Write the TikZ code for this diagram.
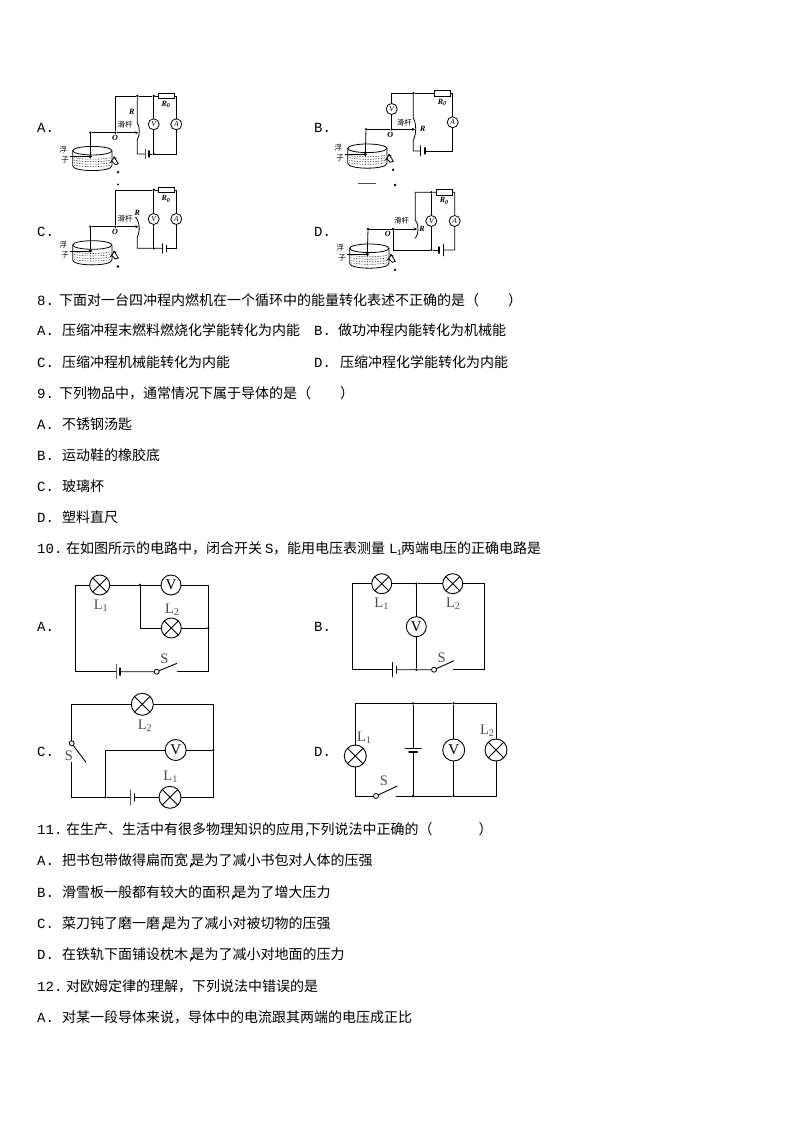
\documentclass[tikz,border=0pt]{standalone}
\usepackage{fontspec}
\setmainfont{Noto Sans CJK SC}
\newfontfamily\latinf{Liberation Mono}
\newfontfamily\serf{Liberation Serif}
\newcommand{\lat}[1]{{\latinf #1}}
\newcommand{\lab}[2]{\makebox[#1pt][l]{\latinf #2}}
\newcommand{\cl}[1]{{\serf L\textsubscript{#1}}}
\newcommand{\cm}{\makebox[2.5pt][l]{\latinf ,}}
\tikzset{
  qtext/.style={anchor=west,inner sep=0pt,font=\fontsize{14}{16}\selectfont},
  lamp/.style={circle,draw,fill=white,minimum size=#1,inner sep=0pt,outer sep=0pt,line width=.9pt,
    path picture={\draw[line width=.9pt] (path picture bounding box.north west) -- (path picture bounding box.south east)
      (path picture bounding box.north east) -- (path picture bounding box.south west);}},
  meter/.style={circle,draw,fill=white,minimum size=#1,inner sep=0pt,outer sep=0pt,line width=.9pt,font=\serf\fontsize{15}{15}\selectfont},
  smeter/.style={circle,draw,fill=white,minimum size=11pt,inner sep=0pt,outer sep=0pt,line width=.8pt,font=\serf\itshape\fontsize{7.5}{8}\selectfont},
  cirlab/.style={inner sep=0pt,font=\serf\fontsize{14.5}{15}\selectfont,text=black!70},
  glab/.style={inner sep=0pt,font=\fontsize{7.5}{8}\selectfont},
  ilab/.style={inner sep=0pt,font=\serf\itshape\bfseries\fontsize{8}{8}\selectfont},
  jdot/.style={circle,fill,minimum size=2.6pt,inner sep=0pt,outer sep=0pt},
  swpin/.style={circle,draw,fill=white,minimum size=5pt,inner sep=0pt,outer sep=0pt,line width=.8pt},
  longplate/.style={draw,minimum width=0pt,minimum height=#1,inner sep=0pt,outer sep=0pt,line width=.8pt},
  shortplate/.style={draw,minimum width=0pt,minimum height=#1,inner sep=0pt,outer sep=0pt,line width=1.3pt},
  rbox/.style={draw,fill=white,minimum width=16pt,minimum height=5.3pt,inner sep=0pt,outer sep=0pt,line width=.8pt},
  wire/.style={line width=.9pt},
  gwire/.style={line width=.8pt},
  lever/.style={gwire,-{Stealth[length=3pt,width=3pt]}},
}
\usetikzlibrary{arrows.meta}
\newcommand{\tankpic}[3]{%
\begin{scope}[shift={(#1,#2)},name prefix=#3-]
\draw[gwire,fill=white] (-19.6,0) -- (-19.6,15) .. controls (-19.6,21.5) and (19.6,21.5) .. (19.6,15) -- (19.6,0);
\draw[gwire,fill=white] (0,0) ellipse (19.6pt and 4.3pt);
\draw[densely dotted,line width=.6pt] (-18,7) .. controls (-8,9) and (8,9) .. (18,7);
\draw[densely dotted,line width=.6pt] (-18,9.5) .. controls (-8,11.5) and (8,11.5) .. (18,9.5);
\draw[densely dotted,line width=.6pt] (-18,12) .. controls (-8,14) and (8,14) .. (18,12);
\draw[densely dotted,line width=.6pt] (-18,14.5) .. controls (-8,16.5) and (8,16.5) .. (18,14.5);
\node[glab] (fu) at(-29,-.7) {浮};
\node[glab] (zi) at(-27.3,9.6) {子};
\node[jdot,minimum size=3.4pt] (float) at(-2,6) {};
\coordinate (fl) at(-22.5,6);
\draw[gwire] (fl) -- (float);
\draw[gwire] (18,12) -- (22,6.5) -- (26,13) -- (23,14) -- (19,10);
\draw[gwire] (21,6) -- (24,8);
\node[jdot] (drain) at(25.7,21.5) {};
\end{scope}}
\begin{document}
\begin{tikzpicture}[x=1pt,y=-1pt]
\useasboundingbox (0,0) rectangle (794,1123);
\node[qtext] (ga) at(37,128) {\lat{A.}};
\node[qtext] (gb) at(314,128) {\lat{B.}};
\node[qtext] (gc) at(37,232) {\lat{C.}};
\node[qtext] (gd) at(314,232) {\lat{D.}};
\tankpic{92.3}{150.7}{ta}
\node[jdot] (aP) at(90.3,132.7) {};
\node[jdot] (aO) at(115.3,132.7) {};
\coordinate (aT) at(138.3,132.7);
\draw[gwire] (aP) -- (ta-float);
\draw[gwire] (aP) -- (aO);
\draw[lever] (aO) -- (aT);
\coordinate (aTL) at(115.3,96);
\node[jdot] (aJ1) at(137.3,96) {};
\node[jdot] (aJ2) at(153.7,96) {};
\node[rbox] (aR0) at(166,96) {};
\coordinate (aTR) at(176.3,96);
\node[smeter] (aV) at(153.7,124.3) {V};
\node[smeter] (aA) at(176.3,124.3) {A};
\coordinate (aBR) at(176.3,154);
\node[jdot] (aJ3) at(153.7,154) {};
\node[shortplate=7pt] (aB2) at(149,154) {};
\node[longplate=10pt] (aB1) at(145,154) {};
\coordinate (aBL) at(137.3,154);
\coordinate (aS1) at(137.3,122.7);
\coordinate (aS2) at(137.3,140);
\draw[gwire] (aO) -- (aTL) -- (aJ1) -- (aJ2) -- (aR0) -- (aTR) -- (aA) -- (aBR) -- (aJ3) -- (aB2);
\draw[gwire] (aJ2) -- (aV) -- (aJ3);
\draw[gwire] (aJ1) -- (aS1) .. controls (140,127) and (140,135) .. (aS2) -- (aBL) -- (aB1);
\node[ilab] (aRl) at(131.7,112.3) {R};
\node[glab] (ahg) at(125,124.7) {滑杆};
\node[ilab] (aOl) at(115,137.7) {O};
\node[ilab] (aR0l) at(166,104.3) {R\textsubscript{0}};
\tankpic{92.3}{245}{tc}
\node[jdot] (cP) at(90.3,226.7) {};
\node[jdot] (cO) at(115.3,226.7) {};
\coordinate (cT) at(138.3,226.7);
\draw[gwire] (cP) -- (tc-float);
\draw[gwire] (cP) -- (cO);
\draw[lever] (cO) -- (cT);
\coordinate (cTL) at(115.3,190);
\node[jdot] (cJ1) at(153.7,190) {};
\node[rbox] (cR0) at(166,190) {};
\coordinate (cTR) at(176.3,190);
\node[smeter] (cV) at(153.7,219) {V};
\node[smeter] (cA) at(176.3,219) {A};
\coordinate (cBR) at(176.3,248.3);
\node[shortplate=7pt] (cB2) at(166.3,248.3) {};
\node[longplate=10pt] (cB1) at(162.3,248.3) {};
\node[jdot] (cJ2) at(153.7,248.3) {};
\coordinate (cBL) at(137.3,248.3);
\coordinate (cS1) at(135.5,217);
\coordinate (cS2) at(137.3,237);
\draw[gwire] (cO) -- (cTL) -- (cJ1) -- (cR0) -- (cTR) -- (cA) -- (cBR) -- (cB2);
\draw[gwire] (cJ1) -- (cV) -- (cJ2);
\draw[gwire] (cB1) -- (cJ2) -- (cBL) -- (cS2) .. controls (140,232) and (140,222) .. (cS1);
\node[ilab] (cRl) at(137.3,212.7) {R};
\node[glab] (chg) at(125,219) {滑杆};
\node[ilab] (cOl) at(115,231.7) {O};
\node[ilab] (cR0l) at(166,199) {R\textsubscript{0}};
\tankpic{367.3}{148.3}{tb}
\node[jdot] (bP) at(366,129.3) {};
\node[jdot] (bO) at(391.7,129.3) {};
\coordinate (bT) at(415,129.3);
\draw[gwire] (bP) -- (tb-float);
\draw[gwire] (bP) -- (bO);
\draw[lever] (bO) -- (bT);
\node[smeter] (bV) at(391.7,109) {V};
\coordinate (bTL) at(391.7,93.3);
\node[jdot] (bJ1) at(413.3,93.3) {};
\node[rbox] (bR0) at(442,93.3) {};
\coordinate (bTR) at(452.7,93.3);
\node[smeter] (bA) at(452.7,122.3) {A};
\coordinate (bBR) at(452.7,151);
\node[shortplate=7pt] (bB2) at(425,151) {};
\node[longplate=11pt] (bB1) at(420.7,151) {};
\coordinate (bBL) at(413.3,151);
\coordinate (bS1) at(413.3,118);
\coordinate (bS2) at(413.3,140);
\draw[gwire] (bO) -- (bV) -- (bTL) -- (bJ1) -- (bR0) -- (bTR) -- (bA) -- (bBR) -- (bB2);
\draw[gwire] (bJ1) -- (bS1) .. controls (416.5,124) and (416.5,134) .. (bS2) -- (bBL) -- (bB1);
\node[glab] (bhg) at(404.3,122.7) {滑杆};
\node[ilab] (bOl) at(390.3,135) {O};
\node[ilab] (bRl) at(422.7,129.3) {R};
\node[ilab] (bR0l) at(442.3,102.3) {R\textsubscript{0}};
\coordinate (bm1) at(358,184);
\coordinate (bm2) at(376,184);
\draw[line width=1pt,black!70] (bm1) -- (bm2);
\node[jdot] (bm3) at(395,185) {};
\node[jdot,minimum size=2pt] (am3) at(118,184.3) {};
\tankpic{369.3}{248.3}{td}
\node[jdot] (dP) at(368,229) {};
\node[jdot] (dO) at(393,229) {};
\coordinate (dT) at(417,229);
\draw[gwire] (dP) -- (td-float);
\draw[gwire] (dP) -- (dO);
\draw[lever] (dO) -- (dT);
\coordinate (dTL) at(415.3,192.3);
\node[jdot] (dJ1) at(431.3,192.3) {};
\node[rbox] (dR0) at(444,192.3) {};
\coordinate (dTR) at(454.7,192.3);
\node[smeter] (dV) at(431.3,221) {V};
\node[smeter] (dA) at(454.7,221) {A};
\coordinate (dBR) at(454.7,250);
\node[longplate=12pt] (dB1) at(443.3,250) {};
\node[shortplate=7pt] (dB2) at(439,250) {};
\node[jdot] (dJ2) at(431.3,250) {};
\coordinate (dBL) at(393,250);
\coordinate (dS1) at(415.3,220);
\coordinate (dS2) at(415.3,238.3);
\draw[gwire] (dS2) .. controls (419,234) and (419,224) .. (dS1) -- (dTL) -- (dJ1) -- (dR0) -- (dTR) -- (dA) -- (dBR) -- (dB1);
\draw[gwire] (dJ1) -- (dV) -- (dJ2);
\draw[gwire] (dO) -- (dBL) -- (dJ2) -- (dB2);
\node[glab] (dhg) at(401.7,221) {滑杆};
\node[ilab] (dOl) at(387.7,234.3) {O};
\node[ilab] (dRl) at(422,229) {R};
\node[ilab] (dR0l) at(444.3,201) {R\textsubscript{0}};
\node[qtext] (q8) at(37,299.7) {\lab{22}{8.}下面对一台四冲程内燃机在一个循环中的能量转化表述不正确的是（\hspace{29pt}）};
\node[qtext] (q8a) at(37,330) {\lab{25}{A.}压缩冲程末燃料燃烧化学能转化为内能};
\node[qtext] (q8b) at(314,330) {\lab{24}{B.}做功冲程内能转化为机械能};
\node[qtext] (q8c) at(37,362) {\lab{25}{C.}压缩冲程机械能转化为内能};
\node[qtext] (q8d) at(314,362) {\lab{26}{D.}压缩冲程化学能转化为内能};
\node[qtext] (q9) at(37,393.7) {\lab{22}{9.}下列物品中，通常情况下属于导体的是（\hspace{29pt}）};
\node[qtext] (q9a) at(37,424.5) {\lab{25}{A.}不锈钢汤匙};
\node[qtext] (q9b) at(37,455) {\lab{25}{B.}运动鞋的橡胶底};
\node[qtext] (q9c) at(37,486) {\lab{25}{C.}玻璃杯};
\node[qtext] (q9d) at(37,517) {\lab{25}{D.}塑料直尺};
\node[qtext] (q10) at(37,548.7) {\lab{29}{10.}在如图所示的电路中，闭合开关\hspace{3pt}\makebox[8pt][l]{\latinf S}，能用电压表测量\hspace{4pt}\makebox[8pt][l]{\latinf L}\makebox[4pt][l]{\fontsize{8}{8}\selectfont\raisebox{-2pt}{\latinf 1}}两端电压的正确电路是};
\node[qtext] (ka) at(37,627) {\lat{A.}};
\node[qtext] (kb) at(314,627) {\lat{B.}};
\node[qtext] (kc) at(37,752) {\lat{C.}};
\node[qtext] (kd) at(314,752) {\lat{D.}};
\node[lamp=20pt] (caL1) at(99.7,585) {};
\node[meter=20pt] (caV) at(171,585) {V};
\node[lamp=20pt] (caL2) at(171.3,628) {};
\node[jdot] (caj1) at(140,585) {};
\node[jdot] (caj2) at(208.3,628) {};
\coordinate (catl) at(75,585);
\coordinate (catr) at(208.3,585);
\coordinate (cabl) at(75,671.7);
\coordinate (cabr) at(208.3,671.7);
\coordinate (caw) at(140,628);
\node[longplate=15pt] (cab1) at(116,671.7) {};
\node[shortplate=8pt] (cab2) at(120,671.7) {};
\node[swpin] (casw) at(156.7,671.7) {};
\coordinate (cabl2) at(177,663.3);
\coordinate (cact) at(176.7,671.7);
\draw[wire] (cab1) -- (cabl) -- (catl) -- (caL1) -- (caj1) -- (caV) -- (catr) -- (caj2) -- (cabr) -- (cact);
\draw[wire] (caj1) -- (caw) -- (caL2) -- (caj2);
\draw[wire] (cab2) -- (casw) -- (cabl2);
\node[cirlab] (caL1l) at(101,606) {\cl{1}};
\node[cirlab] (caL2l) at(172.3,610) {\cl{2}};
\node[cirlab] (caSl) at(164.3,658.3) {S};
\node[lamp=20pt] (cbL1) at(381.7,583.7) {};
\node[lamp=20pt] (cbL2) at(452.7,583.7) {};
\node[meter=20pt] (cbV) at(416.3,626.7) {V};
\node[jdot] (cbj1) at(416.3,583.7) {};
\node[jdot] (cbj2) at(416.3,669.7) {};
\coordinate (cbtl) at(352.7,583.7);
\coordinate (cbtr) at(484.7,583.7);
\coordinate (cbbl) at(352.7,669.7);
\coordinate (cbbr) at(484.7,669.7);
\node[longplate=15pt] (cbb1) at(392.3,669.7) {};
\node[shortplate=8pt] (cbb2) at(396.3,669.7) {};
\node[swpin] (cbsw) at(434,669.7) {};
\coordinate (cbbl2) at(454,660.7);
\coordinate (cbct) at(453.3,669.7);
\draw[wire] (cbb1) -- (cbbl) -- (cbtl) -- (cbL1) -- (cbj1) -- (cbL2) -- (cbtr) -- (cbbr) -- (cbct);
\draw[wire] (cbj1) -- (cbV) -- (cbj2);
\draw[wire] (cbb2) -- (cbj2) -- (cbsw) -- (cbbl2);
\node[cirlab] (cbL1l) at(381.7,604) {\cl{1}};
\node[cirlab] (cbL2l) at(453.3,604) {\cl{2}};
\node[cirlab] (cbSl) at(441.7,657.3) {S};
\node[lamp=22pt] (ccL2) at(142.3,704.3) {};
\node[meter=21pt] (ccV) at(175.7,750) {V};
\node[lamp=22pt] (ccL1) at(170,797.3) {};
\node[swpin] (ccsw) at(71.7,743.3) {};
\node[jdot] (ccj1) at(213.3,750) {};
\node[jdot] (ccj2) at(105.3,797.3) {};
\coordinate (cctl) at(71.7,704.3);
\coordinate (cctr) at(213.3,704.3);
\coordinate (ccbr) at(213.3,797.3);
\coordinate (ccbl) at(71.7,797.3);
\coordinate (ccct) at(71.7,762.3);
\coordinate (ccbl2) at(86,762.3);
\coordinate (ccw) at(105.3,750);
\node[longplate=16pt] (ccb1) at(130,797.3) {};
\node[shortplate=8pt] (ccb2) at(134.3,797.3) {};
\draw[wire] (ccsw) -- (cctl) -- (ccL2) -- (cctr) -- (ccj1) -- (ccbr) -- (ccL1) -- (ccb2);
\draw[wire] (ccb1) -- (ccj2) -- (ccbl) -- (ccct);
\draw[wire] (ccsw) -- (ccbl2);
\draw[wire] (ccj2) -- (ccw) -- (ccV) -- (ccj1);
\node[cirlab] (ccL2l) at(145,726) {\cl{2}};
\node[cirlab] (ccL1l) at(170.7,776.7) {\cl{1}};
\node[cirlab] (ccSl) at(69,756) {S};
\node[lamp=22pt] (cdL1) at(355.3,756) {};
\node[lamp=22pt] (cdL2) at(496,750) {};
\node[meter=22pt] (cdV) at(453.7,750) {V};
\node[jdot] (cdj1) at(413,703.3) {};
\node[jdot] (cdj2) at(453.7,703.3) {};
\node[jdot] (cdj3) at(413,796) {};
\node[jdot] (cdj4) at(453.7,796) {};
\coordinate (cdtl) at(355.3,703.3);
\coordinate (cdtr) at(496,703.3);
\coordinate (cdbl) at(355.3,796);
\coordinate (cdbr) at(496,796);
\node[longplate=17pt,rotate=90] (cdb1) at(413,748.3) {};
\node[shortplate=9pt,rotate=90] (cdb2) at(413,752) {};
\node[swpin] (cdsw) at(376,796) {};
\coordinate (cdbl2) at(397.3,786);
\coordinate (cdct) at(396,796);
\draw[wire] (cdsw) -- (cdbl) -- (cdL1) -- (cdtl) -- (cdj1) -- (cdj2) -- (cdtr) -- (cdL2) -- (cdbr) -- (cdj4) -- (cdj3) -- (cdct);
\draw[wire] (cdj1) -- (cdb1);
\draw[wire] (cdb2) -- (cdj3);
\draw[wire] (cdj2) -- (cdV) -- (cdj4);
\draw[wire] (cdsw) -- (cdbl2);
\node[cirlab] (cdL1l) at(364.3,737.7) {\cl{1}};
\node[cirlab] (cdL2l) at(487.3,730.7) {\cl{2}};
\node[cirlab] (cdSl) at(384,781) {S};
\node[qtext] (q11) at(37,829.7) {\lab{29}{11.}在生产、生活中有很多物理知识的应用\cm 下列说法中正确的（\hspace{46pt}）};
\node[qtext] (q11a) at(37,860.7) {\lab{25}{A.}把书包带做得扁而宽\cm 是为了减小书包对人体的压强};
\node[qtext] (q11b) at(37,892.7) {\lab{25}{B.}滑雪板一般都有较大的面积\cm 是为了增大压力};
\node[qtext] (q11c) at(37,923.7) {\lab{25}{C.}菜刀钝了磨一磨\cm 是为了减小对被切物的压强};
\node[qtext] (q11d) at(37,954.7) {\lab{25}{D.}在铁轨下面铺设枕木\cm 是为了减小对地面的压力};
\node[qtext] (q12) at(37,986.7) {\lab{29}{12.}对欧姆定律的理解，下列说法中错误的是};
\node[qtext] (q12a) at(37,1017.7) {\lab{25}{A.}对某一段导体来说，导体中的电流跟其两端的电压成正比};
\end{tikzpicture}
\end{document}
